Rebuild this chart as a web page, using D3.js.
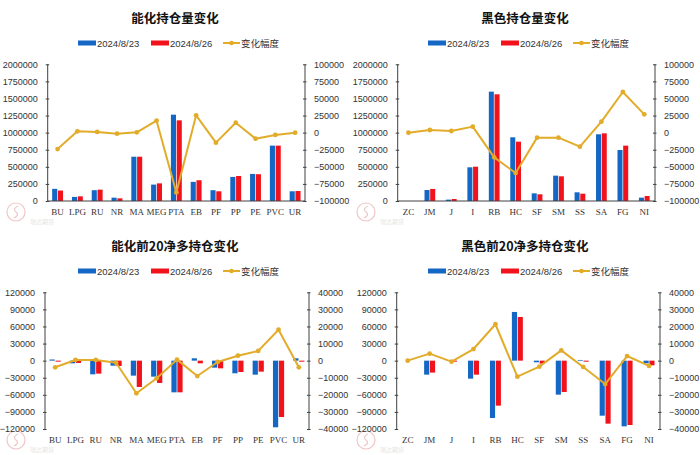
<!DOCTYPE html>
<html><head><meta charset="utf-8">
<script src="https://cdn.jsdelivr.net/npm/d3@7"></script>
<style>
html,body{margin:0;padding:0;background:#fff;}
svg{display:block;}
</style>
</head><body>
<svg id="c" width="700" height="455"></svg>
<script>
// ---------- DATA ----------
const energyCats = ["BU","LPG","RU","NR","MA","MEG","PTA","EB","PF","PP","PE","PVC","UR"];
const blackCats  = ["ZC","JM","J","I","RB","HC","SF","SM","SS","SA","FG","NI"];

const energyOI0823   = [178000, 60000, 158000, 49000, 648000, 240000, 1263000, 280000, 158000, 352000, 396000, 810000, 142000];
const energyOI0826   = [153000, 68000, 166000, 39000, 648000, 258000, 1180000, 304000, 142000, 366000, 392000, 810000, 146000];
const energyOIChange = [-24000, 2000, 1000, -1500, 500, 17500, -87500, 25400, -14600, 14600, -8800, -3400, 0];

const blackOI0823   = [0, 161000, 20000, 493000, 1600000, 932000, 112000, 371000, 127000, 976000, 746000, 49000];
const blackOI0826   = [0, 176000, 29000, 502000, 1561000, 868000, 98000, 361000, 107000, 990000, 810000, 73000];
const blackOIChange = [0, 3900, 2400, 8800, -36100, -59000, -7300, -7300, -20500, 16100, 59500, 26800];

const energyNet0823   = [2000, -4700, -24000, -8800, -26300, -28100, -55600, 4100, -12300, -22200, -24600, -117000, 4100];
const energyNet0826   = [-1800, -4100, -22800, -9400, -46200, -39200, -55600, -4700, -13500, -19900, -19300, -99000, -1800];
const energyNetChange = [-3900, 400, 400, -1200, -19100, -10300, 600, -9000, -800, 2900, 5700, 18100, -3900];

const blackNet0823   = [0, -24600, -600, -31600, -100700, 85500, -2900, -59700, 1200, -96600, -115300, -4700];
const blackNet0826   = [0, -21000, -1800, -24600, -79000, 76700, -5300, -55000, -1800, -110600, -113000, -8200];
const blackNetChange = [0, 4100, -600, 6800, 21300, -9400, -3500, 6000, -3700, -13700, 2700, -3100];

const oiLeftTicks   = [0,250000,500000,750000,1000000,1250000,1500000,1750000,2000000];
const oiRightTicks  = [-100000,-75000,-50000,-25000,0,25000,50000,75000,100000];
const netLeftTicks  = [-120000,-90000,-60000,-30000,0,30000,60000,90000,120000];
const netRightTicks = [-40000,-30000,-20000,-10000,0,10000,20000,30000,40000];

const seriesNames = ["2024/8/23","2024/8/26","变化幅度"];
const titles = ["能化持仓量变化","黑色持仓量变化","能化前20净多持仓变化","黑色前20净多持仓变化"];

// ---------- STYLE ----------
const BLUE = "#1467C4", RED = "#F2121C", GOLD = "#E2AC2A", AXIS = "#404040", TXT = "#333";
const svg = d3.select("#c");

function drawPanel(o) {
  const g = svg.append("g").attr("transform", `translate(${o.ox},${o.oy})`);
  const x0 = d3.scaleBand().domain(o.cats).range([o.l, o.r]).paddingInner(o.pad).paddingOuter(o.pad/2);
  const xc = d3.scaleBand().domain(o.cats).range([o.l, o.r]);
  const x1 = d3.scaleBand().domain([0,1]).range([0, x0.bandwidth()]).paddingInner(0.12);
  const yL = d3.scaleLinear().domain(o.lDom).range([o.b, o.t]);
  const yR = d3.scaleLinear().domain(o.rDom).range([o.b, o.t]);

  // title
  g.append("text").attr("x", 175).attr("y", 23).attr("text-anchor","middle")
    .attr("font-family","'Noto Sans CJK SC',sans-serif").attr("font-weight","bold")
    .attr("font-size", 12.5).attr("fill","#111").text(o.title);

  // legend
  const lg = g.append("g").attr("font-family","'Liberation Sans','Noto Sans CJK SC',sans-serif")
    .attr("font-size", 9.5).attr("fill", TXT);
  const ly = 43;
  lg.append("rect").attr("x",78).attr("y",ly-2.5).attr("width",18).attr("height",5).attr("fill",BLUE);
  lg.append("text").attr("x",97).attr("y",ly+3.5).text(seriesNames[0]);
  lg.append("rect").attr("x",151).attr("y",ly-2.5).attr("width",18).attr("height",5).attr("fill",RED);
  lg.append("text").attr("x",170).attr("y",ly+3.5).text(seriesNames[1]);
  lg.append("line").attr("x1",223).attr("x2",240).attr("y1",ly).attr("y2",ly).attr("stroke",GOLD).attr("stroke-width",2);
  lg.append("circle").attr("cx",231.5).attr("cy",ly).attr("r",2.3).attr("fill",GOLD);
  lg.append("text").attr("x",241).attr("y",ly+3.5).attr("font-family","'Noto Sans CJK SC',sans-serif").attr("font-size",9.5).text(seriesNames[2]);

  // watermark
  const wm = g.append("g").attr("opacity",0.55);
  wm.append("circle").attr("cx",16).attr("cy",o.b+11).attr("r",9).attr("fill","none").attr("stroke","#E59A9A").attr("stroke-width",1.2);
  wm.append("path").attr("d",`M${18},${o.b+5} q-6,3 -2,6 q4,3 -2,6`).attr("fill","none").attr("stroke","#E59A9A").attr("stroke-width",1.2);
  wm.append("text").attr("x",30).attr("y",o.b+23).attr("font-family","'Noto Sans CJK SC',sans-serif")
    .attr("font-size",6).attr("fill","#cfcfcf").text("瑞达期货");

  // bars
  const rows = o.cats.map((c,i)=>({c, v:[o.s1[i], o.s2[i]]}));
  const bg = g.append("g");
  rows.forEach(r=>{
    r.v.forEach((v,j)=>{
      bg.append("rect")
        .attr("x", x0(r.c) + x1(j))
        .attr("width", x1.bandwidth())
        .attr("y", Math.min(yL(v), yL(0)))
        .attr("height", Math.abs(yL(v) - yL(0)))
        .attr("fill", j===0 ? BLUE : RED);
    });
  });

  // axes
  const axL = d3.axisLeft(yL).tickValues(o.lTicks).tickSize(3).tickPadding(8).tickFormat(d3.format("d"));
  const axR = d3.axisRight(yR).tickValues(o.rTicks).tickSize(3).tickPadding(8).tickFormat(d3.format("d"));
  const gl = g.append("g").attr("transform",`translate(${o.l},0)`).call(axL);
  const gr = g.append("g").attr("transform",`translate(${o.r},0)`).call(axR);
  [gl,gr].forEach(a=>{
    a.select(".domain").attr("stroke",AXIS).attr("stroke-width",1);
    a.selectAll(".tick line").attr("stroke",AXIS);
    a.selectAll(".tick text").attr("font-family","'Liberation Sans',Arial,sans-serif").attr("font-size",9).attr("fill",TXT);
  });
  gl.selectAll(".tick line").attr("x1",1.5).attr("x2",-2);
  gr.selectAll(".tick line").attr("x1",-2).attr("x2",1.5);
  gr.selectAll(".tick text").attr("x",9);
  gl.selectAll(".tick text").attr("x",-10);
  gr.select(".domain").attr("d",`M0,${o.t}V${o.b}`);
  gl.select(".domain").attr("d",`M0,${o.t}V${o.b}`);

  if (o.baseline) {
    g.append("line").attr("x1",o.l).attr("x2",o.r).attr("y1",yL(0)).attr("y2",yL(0)).attr("stroke",AXIS).attr("stroke-width",1);
  }

  // x labels
  const xa = d3.axisBottom(xc).tickSize(0).tickPadding(0);
  const gx = g.append("g").attr("transform",`translate(0,${o.b+14})`).call(xa);
  gx.select(".domain").remove();
  gx.selectAll(".tick text").attr("font-family","'Liberation Serif','Times New Roman',serif")
    .attr("font-size",9).attr("fill",TXT).attr("dy","0");

  // line
  const line = d3.line().x((d,i)=>xc(o.cats[i]) + xc.bandwidth()/2).y(d=>yR(d));
  g.append("path").datum(o.chg).attr("d",line).attr("fill","none").attr("stroke",GOLD).attr("stroke-width",2).attr("stroke-linejoin","round");
  g.selectAll(null).data(o.chg).enter().append("circle")
    .attr("cx",(d,i)=>xc(o.cats[i]) + xc.bandwidth()/2).attr("cy",d=>yR(d)).attr("r",2.4).attr("fill",GOLD);
}

drawPanel({ox:0, oy:0, title:titles[0], cats:energyCats, s1:energyOI0823, s2:energyOI0826, chg:energyOIChange,
  l:47.7, r:305, t:64.3, b:201, lDom:[0,2000000], rDom:[-100000,100000], lTicks:oiLeftTicks, rTicks:oiRightTicks, pad:0.45, baseline:true});
drawPanel({ox:350, oy:0, title:titles[1], cats:blackCats, s1:blackOI0823, s2:blackOI0826, chg:blackOIChange,
  l:47.7, r:305, t:64.3, b:201, lDom:[0,2000000], rDom:[-100000,100000], lTicks:oiLeftTicks, rTicks:oiRightTicks, pad:0.5, baseline:true});
drawPanel({ox:0, oy:228, title:titles[2], cats:energyCats, s1:energyNet0823, s2:energyNet0826, chg:energyNetChange,
  l:45, r:309, t:64.3, b:201, lDom:[-120000,120000], rDom:[-40000,40000], lTicks:netLeftTicks, rTicks:netRightTicks, pad:0.45, baseline:false});
drawPanel({ox:350, oy:228, title:titles[3], cats:blackCats, s1:blackNet0823, s2:blackNet0826, chg:blackNetChange,
  l:46.7, r:310, t:64.3, b:201, lDom:[-120000,120000], rDom:[-40000,40000], lTicks:netLeftTicks, rTicks:netRightTicks, pad:0.5, baseline:false});
</script>
</body></html>
